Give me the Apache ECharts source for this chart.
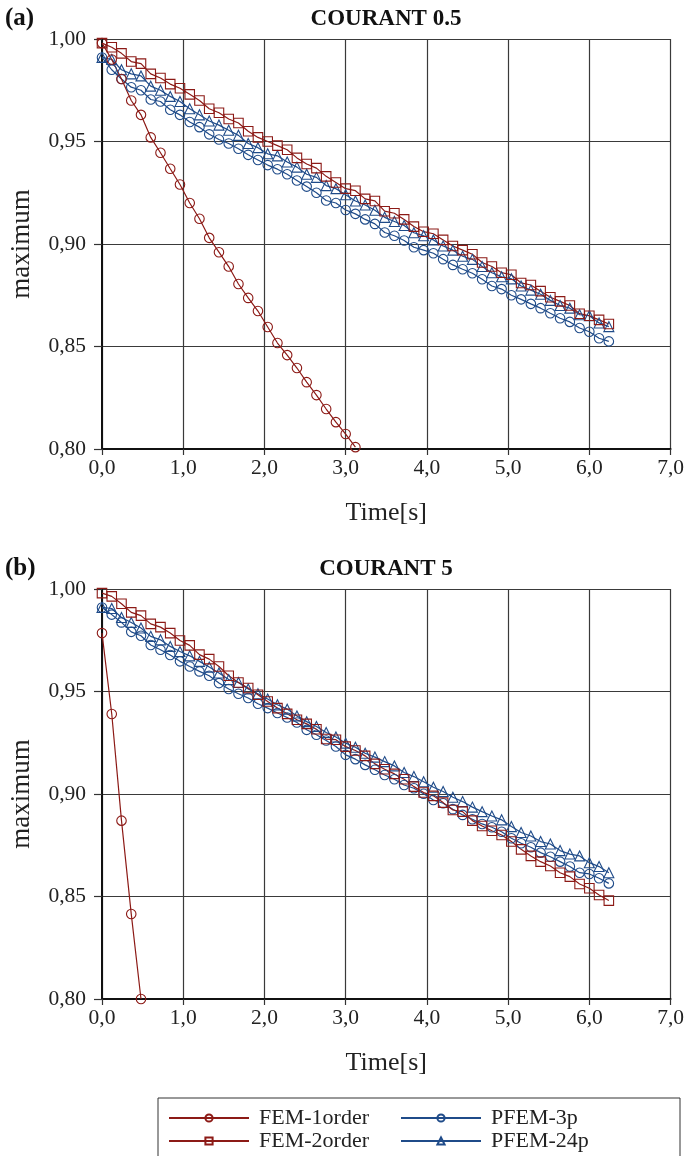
<!DOCTYPE html>
<html>
<head>
<meta charset="utf-8">
<script src="https://cdn.jsdelivr.net/npm/echarts@6/dist/echarts.min.js"></script>
<style>
html,body{margin:0;padding:0;background:#fff;}
#chart{width:687px;height:1156px;}
</style>
</head>
<body>
<div id="chart"></div>
<script>
// ---- data ----
const times = [0,0.12,0.24,0.36,0.48,0.6,0.72,0.84,0.96,1.08,1.2,1.32,1.44,1.56,1.68,1.8,1.92,2.04,2.16,2.28,2.4,2.52,2.64,2.76,2.88,3,3.12,3.24,3.36,3.48,3.6,3.72,3.84,3.96,4.08,4.2,4.32,4.44,4.56,4.68,4.8,4.92,5.04,5.16,5.28,5.4,5.52,5.64,5.76,5.88,6,6.12,6.24];
const seriesNames = ['FEM-1order','FEM-2order','PFEM-3p','PFEM-24p'];
const xTickLabels = ['0,0','1,0','2,0','3,0','4,0','5,0','6,0','7,0'];
const yTickLabels = ['0,80','0,85','0,90','0,95','1,00'];
const panelTitles = ['COURANT 0.5','COURANT 5'];
const panelLetters = ['(a)','(b)'];

// Panel (a): Courant 0.5
const a_fem1 = [0.998,0.990,0.9805,0.970,0.963,0.952,0.9445,0.9367,0.929,0.920,0.9123,0.903,0.896,0.889,0.8805,0.8737,0.8673,0.8595,0.8517,0.8458,0.8395,0.8326,0.8263,0.8195,0.8131,0.8073,0.8009];
const a_fem2 = [0.998,0.996,0.993,0.989,0.988,0.983,0.981,0.978,0.976,0.973,0.970,0.966,0.964,0.961,0.959,0.955,0.952,0.950,0.948,0.946,0.942,0.939,0.937,0.933,0.930,0.927,0.926,0.922,0.921,0.916,0.915,0.912,0.9085,0.906,0.905,0.902,0.899,0.897,0.895,0.891,0.889,0.886,0.885,0.881,0.880,0.877,0.874,0.872,0.870,0.866,0.865,0.863,0.861];
const a_pfem3 = [0.991,0.985,0.9805,0.9765,0.975,0.9705,0.9695,0.9655,0.963,0.9595,0.957,0.9535,0.951,0.949,0.9465,0.9435,0.941,0.9385,0.9365,0.934,0.931,0.928,0.925,0.9212,0.920,0.9166,0.9147,0.912,0.9098,0.9056,0.904,0.9017,0.8984,0.897,0.8955,0.8926,0.8898,0.8877,0.8857,0.8828,0.8795,0.878,0.875,0.873,0.8708,0.8687,0.8662,0.8638,0.862,0.859,0.8572,0.854,0.8525];
const a_pfem24 = [0.991,0.990,0.985,0.983,0.982,0.977,0.975,0.972,0.9695,0.966,0.963,0.960,0.958,0.9555,0.953,0.949,0.947,0.944,0.943,0.940,0.9375,0.934,0.9325,0.9285,0.927,0.924,0.921,0.919,0.9165,0.913,0.911,0.909,0.9055,0.904,0.902,0.899,0.897,0.894,0.8925,0.889,0.886,0.884,0.883,0.8795,0.8775,0.8755,0.8725,0.870,0.8687,0.8655,0.865,0.8615,0.8597];

// Panel (b): Courant 5
const b_fem1 = [0.9785,0.939,0.887,0.8415,0.800];
const b_fem2 = [0.998,0.9964,0.9928,0.9886,0.987,0.983,0.9814,0.9785,0.9749,0.9725,0.968,0.9658,0.9622,0.9577,0.9544,0.9517,0.9484,0.9451,0.9419,0.9391,0.9362,0.9342,0.9316,0.9268,0.9265,0.9231,0.9212,0.9186,0.9147,0.9121,0.9098,0.9072,0.9036,0.9007,0.8991,0.8958,0.8922,0.8914,0.887,0.8844,0.8821,0.880,0.8768,0.873,0.8698,0.867,0.8649,0.8616,0.8597,0.8561,0.854,0.8507,0.848];
const b_pfem3 = [0.991,0.9875,0.9837,0.9791,0.9772,0.9727,0.9704,0.9678,0.9647,0.9622,0.9598,0.9577,0.9541,0.9512,0.9489,0.9468,0.944,0.9419,0.9395,0.9373,0.9349,0.9313,0.9289,0.9261,0.9232,0.9191,0.917,0.9142,0.9118,0.9093,0.9072,0.9044,0.9028,0.9001,0.8971,0.8955,0.8926,0.8898,0.8877,0.8854,0.8838,0.8816,0.8784,0.876,0.874,0.8714,0.8694,0.867,0.8646,0.8616,0.861,0.8589,0.8564];
const b_pfem24 = [0.991,0.9905,0.9861,0.9837,0.981,0.9769,0.9752,0.972,0.9695,0.9674,0.9647,0.9619,0.959,0.9558,0.9544,0.9512,0.9489,0.9463,0.9435,0.9414,0.9381,0.9353,0.9329,0.930,0.9278,0.9248,0.9228,0.9199,0.918,0.9158,0.9137,0.9105,0.9085,0.906,0.9033,0.9012,0.8984,0.8963,0.8936,0.8914,0.8893,0.8874,0.8841,0.8812,0.8795,0.8768,0.8756,0.8724,0.8707,0.8698,0.8665,0.8646,0.8616];

// ---- build ----
const RED = '#8c1a16';
const BLUE = '#1f4b89';
const FONT = 'Liberation Serif';
const styles = {
  'FEM-1order': {color: RED, symbol: 'circle', size: 9.5},
  'FEM-2order': {color: RED, symbol: 'rect', size: 9.5},
  'PFEM-3p': {color: BLUE, symbol: 'circle', size: 9.5},
  'PFEM-24p': {color: BLUE, symbol: 'triangle', size: 10}
};
function pairs(vals){ return vals.map((v,i)=>[times[i], v]); }
function mk(name, vals, idx){
  const s = styles[name];
  return {
    name: name, type: 'line', xAxisIndex: idx, yAxisIndex: idx,
    data: pairs(vals), symbol: s.symbol, symbolSize: s.size, showSymbol: true,
    clip: true, animation: false,
    lineStyle: {color: s.color, width: 1.2},
    itemStyle: {color: 'rgba(255,255,255,0)', borderColor: s.color, borderWidth: 1.1}
  };
}
const panelData = [
  {'FEM-1order': a_fem1, 'FEM-2order': a_fem2, 'PFEM-3p': a_pfem3, 'PFEM-24p': a_pfem24},
  {'FEM-1order': b_fem1, 'FEM-2order': b_fem2, 'PFEM-3p': b_pfem3, 'PFEM-24p': b_pfem24}
];
const series = [];
panelData.forEach((pd, idx)=>{
  ['PFEM-3p','PFEM-24p','FEM-1order','FEM-2order'].forEach(n=> series.push(mk(n, pd[n], idx)));
});

const gridTops = [39, 589];
const grids = gridTops.map(t=>({left: 97, top: t, width: 576, height: 410, containLabel: false}));
const xAxes = gridTops.map((t,i)=>({
  type: 'value', gridIndex: i, min: 0, max: 7, interval: 1,
  name: 'Time[s]', nameLocation: 'middle', nameGap: 51,
  nameTextStyle: {fontFamily: FONT, fontSize: 26, color: '#222'},
  axisLine: {show: true, onZero: false, lineStyle: {color: '#111', width: 2}},
  axisTick: {show: true, inside: false, length: 6, lineStyle: {color: '#333', width: 1.2}},
  axisLabel: {fontFamily: FONT, fontSize: 21.5, color: '#222', margin: 8,
              formatter: v => xTickLabels[Math.round(v)]},
  splitLine: {show: true, lineStyle: {color: '#3a3a3a', width: 1.2}}
}));
const yAxes = gridTops.map((t,i)=>({
  type: 'value', gridIndex: i, min: 0.8, max: 1.0, interval: 0.05,
  name: 'maximum', nameLocation: 'middle', nameGap: 67, nameRotate: 90,
  nameTextStyle: {fontFamily: FONT, fontSize: 27, color: '#222'},
  axisLine: {show: true, onZero: false, lineStyle: {color: '#111', width: 2}},
  axisTick: {show: true, inside: false, length: 8, lineStyle: {color: '#333', width: 1.2}},
  axisLabel: {fontFamily: FONT, fontSize: 21.5, color: '#222', margin: 16,
              formatter: v => yTickLabels[Math.round((v-0.8)/0.05)]},
  splitLine: {show: true, lineStyle: {color: '#3a3a3a', width: 1.2}}
}));

const graphics = [];
[0,1].forEach(i=>{
  graphics.push({type:'text', left: 5, top: gridTops[i]-33, style:{text: panelLetters[i], font: 'bold 25px "Liberation Serif"', fill:'#111'}});
  graphics.push({type:'text', x: 386, y: gridTops[i]-31, style:{text: panelTitles[i], font: 'bold 23px "Liberation Serif"', fill:'#111', textAlign:'center'}});
});
graphics.push({type:'rect', shape:{x:158, y:1098, width:522, height:80}, style:{fill:'none', stroke:'#333', lineWidth:1}, z: 0});

function leg(name, left, top){
  return {
    orient: 'horizontal', left: left, top: top, padding: 0,
    itemWidth: 80, itemHeight: 9,
    textStyle: {fontFamily: FONT, fontSize: 22, color: '#222', padding: [0,0,0,5]},
    selectedMode: false, data: [name]
  };
}

const chart = echarts.init(document.getElementById('chart'), null, {renderer: 'canvas'});
chart.setOption({
  backgroundColor: '#fff',
  animation: false,
  grid: grids, xAxis: xAxes, yAxis: yAxes, series: series,
  graphic: graphics,
  legend: [
    leg('FEM-1order', 168, 1107),
    leg('FEM-2order', 168, 1130),
    leg('PFEM-3p', 400, 1107),
    leg('PFEM-24p', 400, 1130)
  ]
});
</script>
</body>
</html>
